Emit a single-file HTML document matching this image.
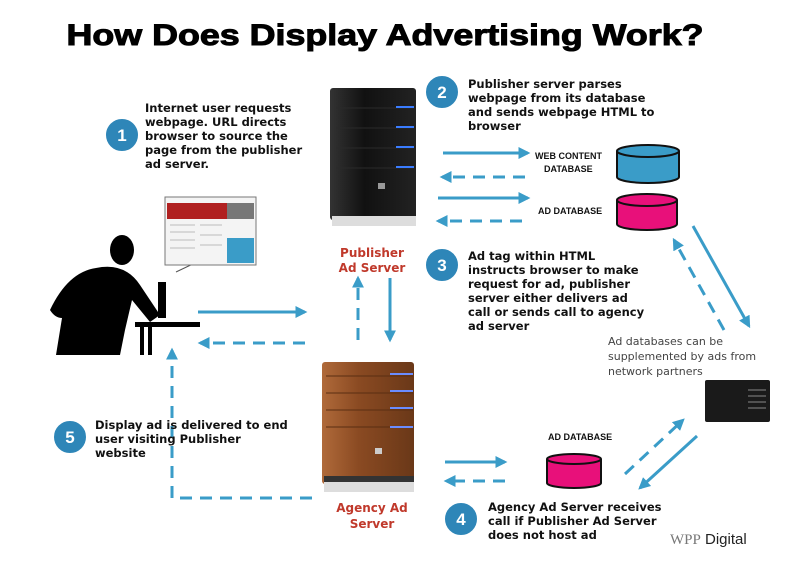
<!DOCTYPE html>
<html><head><meta charset="utf-8"><style>
html,body{margin:0;padding:0;background:#fff;}
svg{display:block;}
.t{font-family:"DejaVu Sans","Liberation Sans",sans-serif;font-weight:bold;font-size:11.5px;fill:#111;}
.s{font-family:"Liberation Sans",sans-serif;font-weight:bold;font-size:9px;fill:#111;}
.r{font-family:"DejaVu Sans","Liberation Sans",sans-serif;font-weight:bold;font-size:12px;fill:#c0392b;}
.g{font-family:"DejaVu Sans","Liberation Sans",sans-serif;font-size:11px;fill:#444;}
.n{font-family:"Liberation Sans",sans-serif;font-weight:bold;font-size:17px;fill:#fff;}
</style></head><body>
<svg width="800" height="564" viewBox="0 0 800 564" xmlns="http://www.w3.org/2000/svg">
<defs>
<marker id="a" viewBox="0 0 10 10" refX="8" refY="5" markerWidth="4" markerHeight="4" orient="auto"><path d="M0,0 L10,5 L0,10 z" fill="#3a9cc8"/></marker>
<linearGradient id="bk" x1="0" x2="1"><stop offset="0" stop-color="#333"/><stop offset=".4" stop-color="#111"/><stop offset="1" stop-color="#222"/></linearGradient>
<linearGradient id="br" x1="0" x2="1"><stop offset="0" stop-color="#b06a3a"/><stop offset=".4" stop-color="#8a4a22"/><stop offset="1" stop-color="#6a3818"/></linearGradient>
</defs>
<text x="385" y="45" text-anchor="middle" font-family="Liberation Sans,sans-serif" font-weight="bold" font-size="30" stroke="#000" stroke-width="1" textLength="637" lengthAdjust="spacingAndGlyphs">How Does Display Advertising Work?</text>

<rect x="330" y="88" width="86" height="132" rx="3" fill="url(#bk)"/>
<g stroke="#2a2a2a" stroke-width="1"><line x1="336" y1="108" x2="414" y2="108"/><line x1="336" y1="128" x2="414" y2="128"/><line x1="336" y1="148" x2="414" y2="148"/><line x1="336" y1="168" x2="414" y2="168"/></g>
<g stroke="#3a7cff" stroke-width="2"><line x1="396" y1="107" x2="414" y2="107"/><line x1="396" y1="127" x2="414" y2="127"/><line x1="396" y1="147" x2="414" y2="147"/><line x1="396" y1="167" x2="414" y2="167"/></g>
<rect x="378" y="183" width="7" height="6" fill="#999"/>
<rect x="332" y="216" width="84" height="10" fill="#ddd"/>
<text class="r" x="372" y="257" text-anchor="middle">Publisher</text>
<text class="r" x="372" y="272" text-anchor="middle">Ad Server</text>

<rect x="322" y="362" width="92" height="122" rx="3" fill="url(#br)"/>
<g stroke="#5a2e12"><line x1="326" y1="376" x2="413" y2="376"/><line x1="326" y1="393" x2="413" y2="393"/><line x1="326" y1="410" x2="413" y2="410"/><line x1="326" y1="427" x2="413" y2="427"/></g>
<g stroke="#6a8cff" stroke-width="2"><line x1="390" y1="374" x2="413" y2="374"/><line x1="390" y1="391" x2="413" y2="391"/><line x1="390" y1="408" x2="413" y2="408"/><line x1="390" y1="427" x2="413" y2="427"/></g>
<rect x="375" y="448" width="7" height="6" fill="#ccc"/>
<rect x="324" y="478" width="90" height="14" fill="#ddd"/>
<rect x="324" y="476" width="90" height="6" fill="#333"/>
<text class="r" x="372" y="512" text-anchor="middle">Agency Ad</text>
<text class="r" x="372" y="528" text-anchor="middle">Server</text>

<rect x="705" y="380" width="65" height="42" rx="2" fill="#1a1a1a"/>
<g stroke="#888"><line x1="748" y1="390" x2="766" y2="390"/><line x1="748" y1="396" x2="766" y2="396"/><line x1="748" y1="402" x2="766" y2="402"/><line x1="748" y1="408" x2="766" y2="408"/></g>

<g fill="#000">
<ellipse cx="122" cy="250" rx="12" ry="15"/>
<path d="M96,268 Q125,262 140,285 L160,315 L150,322 L132,300 L125,330 L120,355 L56,355 L62,318 Q55,318 50,310 Q68,272 96,268 z"/>
<rect x="135" y="322" width="65" height="5"/>
<rect x="140" y="327" width="4" height="28"/><rect x="148" y="327" width="4" height="28"/>
<rect x="158" y="282" width="8" height="36"/>
</g>
<line x1="176" y1="272" x2="197" y2="262" stroke="#555"/>
<rect x="165" y="197" width="91" height="68" fill="#f4f4f4" stroke="#777"/>
<rect x="167" y="203" width="60" height="16" fill="#b02020"/>
<rect x="227" y="203" width="27" height="16" fill="#777"/>
<rect x="227" y="238" width="27" height="25" fill="#3a9cc8"/>
<g stroke="#bbb"><line x1="170" y1="225" x2="195" y2="225"/><line x1="170" y1="232" x2="195" y2="232"/><line x1="170" y1="240" x2="195" y2="240"/><line x1="170" y1="248" x2="195" y2="248"/><line x1="200" y1="225" x2="222" y2="225"/><line x1="200" y1="235" x2="222" y2="235"/><line x1="200" y1="245" x2="222" y2="245"/></g>

<g stroke="#3a9cc8" stroke-width="3" fill="none" marker-end="url(#a)">
<line x1="443" y1="153" x2="528" y2="153"/>
<line x1="525" y1="177" x2="442" y2="177" stroke-dasharray="12,8"/>
<line x1="438" y1="198" x2="528" y2="198"/>
<line x1="522" y1="221" x2="438" y2="221" stroke-dasharray="12,8"/>
<line x1="693" y1="226" x2="749" y2="326"/>
<line x1="724" y1="330" x2="674" y2="240" stroke-dasharray="12,8"/>
<line x1="198" y1="312" x2="305" y2="312"/>
<line x1="305" y1="343" x2="200" y2="343" stroke-dasharray="12,8"/>
<line x1="358" y1="340" x2="358" y2="278" stroke-dasharray="12,8"/>
<line x1="390" y1="278" x2="390" y2="340"/>
<polyline points="312,498 172,498 172,350" stroke-dasharray="12,8"/>
<line x1="445" y1="462" x2="505" y2="462"/>
<line x1="505" y1="481" x2="446" y2="481" stroke-dasharray="12,8"/>
<line x1="625" y1="474" x2="683" y2="420" stroke-dasharray="12,8"/>
<line x1="697" y1="436" x2="640" y2="488"/>
</g>

<g stroke="#111" stroke-width="2">
<path d="M617,151 L617,177 A31,6 0 0 0 679,177 L679,151" fill="#3a9cc8"/><ellipse cx="648" cy="151" rx="31" ry="6" fill="#3a9cc8"/>
<path d="M617,200 L617,224 A30,6 0 0 0 677,224 L677,200" fill="#e8107a"/><ellipse cx="647" cy="200" rx="30" ry="6" fill="#e8107a"/>
<path d="M547,459 L547,483 A27,5 0 0 0 601,483 L601,459" fill="#e8107a"/><ellipse cx="574" cy="459" rx="27" ry="5" fill="#e8107a"/>
</g>

<text class="s" x="535" y="159">WEB CONTENT</text>
<text class="s" x="544" y="172">DATABASE</text>
<text class="s" x="538" y="214">AD DATABASE</text>
<text class="s" x="548" y="440">AD DATABASE</text>

<g fill="#2e86b8" stroke="#fff" stroke-width="2">
<circle cx="122" cy="135" r="17"/><circle cx="442" cy="92" r="17"/><circle cx="442" cy="265" r="17"/><circle cx="461" cy="519" r="17"/><circle cx="70" cy="437" r="17"/>
</g>
<text class="n" x="122" y="141" text-anchor="middle">1</text>
<text class="n" x="442" y="98" text-anchor="middle">2</text>
<text class="n" x="442" y="271" text-anchor="middle">3</text>
<text class="n" x="461" y="525" text-anchor="middle">4</text>
<text class="n" x="70" y="443" text-anchor="middle">5</text>

<text class="t"><tspan x="145" y="112">Internet user requests</tspan><tspan x="145" y="126">webpage.  URL directs</tspan><tspan x="145" y="140">browser to source the</tspan><tspan x="145" y="154">page from the publisher</tspan><tspan x="145" y="168">ad server.</tspan></text>
<text class="t"><tspan x="468" y="88">Publisher server parses</tspan><tspan x="468" y="102">webpage from its database</tspan><tspan x="468" y="116">and sends webpage HTML to</tspan><tspan x="468" y="130">browser</tspan></text>
<text class="t"><tspan x="468" y="260">Ad tag within HTML</tspan><tspan x="468" y="274">instructs browser to make</tspan><tspan x="468" y="288">request for ad, publisher</tspan><tspan x="468" y="302">server either delivers ad</tspan><tspan x="468" y="316">call or sends call to agency</tspan><tspan x="468" y="330">ad server</tspan></text>
<text class="g"><tspan x="608" y="345">Ad databases can be</tspan><tspan x="608" y="360">supplemented by ads from</tspan><tspan x="608" y="375">network partners</tspan></text>
<text class="t"><tspan x="95" y="429">Display ad is delivered to end</tspan><tspan x="95" y="443">user visiting Publisher</tspan><tspan x="95" y="457">website</tspan></text>
<text class="t"><tspan x="488" y="511">Agency Ad Server receives</tspan><tspan x="488" y="525">call if Publisher Ad Server</tspan><tspan x="488" y="539">does not host ad</tspan></text>
<text x="670" y="544" font-size="15" fill="#222"><tspan font-family="Liberation Serif,serif" fill="#777">WPP</tspan><tspan font-family="Liberation Sans,sans-serif"> Digital</tspan></text>
</svg>
</body></html>
